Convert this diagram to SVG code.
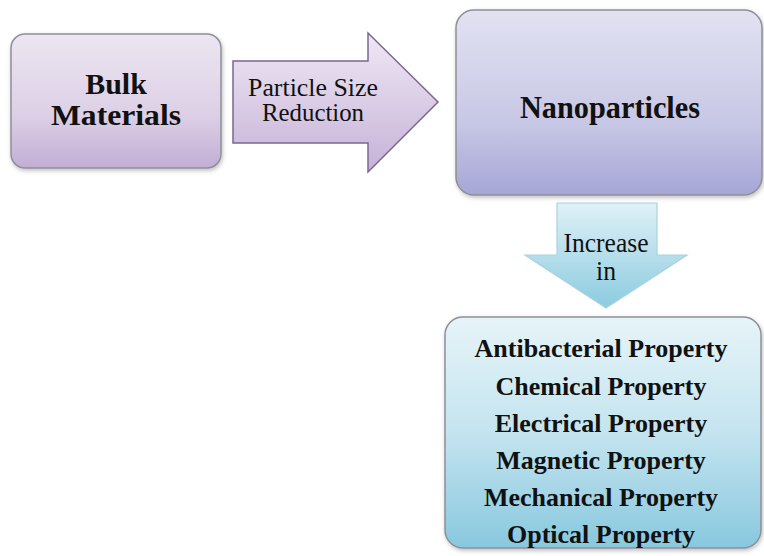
<svg xmlns="http://www.w3.org/2000/svg" width="764" height="556" viewBox="0 0 764 556">
<defs>
<linearGradient id="gBulk" x1="0" y1="0" x2="0" y2="1"><stop offset="0" stop-color="#ece6f1"/><stop offset="0.6" stop-color="#ddd0e6"/><stop offset="1" stop-color="#c2aed4"/></linearGradient>
<linearGradient id="gArrow" x1="0" y1="0" x2="0" y2="1"><stop offset="0" stop-color="#efe8f4"/><stop offset="1" stop-color="#c6b2d8"/></linearGradient>
<linearGradient id="gNano" x1="0" y1="0" x2="0" y2="1"><stop offset="0" stop-color="#e2e2f2"/><stop offset="0.6" stop-color="#c8c8e6"/><stop offset="1" stop-color="#a6a6d6"/></linearGradient>
<linearGradient id="gDown" x1="0" y1="0" x2="0" y2="1"><stop offset="0" stop-color="#dff1f6"/><stop offset="1" stop-color="#8ccbe0"/></linearGradient>
<linearGradient id="gProp" x1="0" y1="0" x2="0" y2="1"><stop offset="0" stop-color="#e6f4f8"/><stop offset="0.5" stop-color="#c4e4ef"/><stop offset="1" stop-color="#88c8de"/></linearGradient>
<filter id="sh" x="-10%" y="-10%" width="120%" height="120%"><feDropShadow dx="1" dy="2" stdDeviation="2" flood-color="#000" flood-opacity="0.25"/></filter>
</defs>
<style>
.box{stroke:#8f8f99;stroke-width:1.5;filter:url(#sh)}
.tb{font-weight:bold;fill:#111;text-anchor:middle}
.tr{fill:#111;text-anchor:middle}
</style>
<rect width="764" height="556" fill="#fff"/>
<g id="connectors" font-family="Liberation Serif, serif">
<path d="M233,61 H368 V33 L438,102 L368,172 V143 H233 Z" fill="url(#gArrow)" stroke="#7a6890" stroke-width="1.5" stroke-linejoin="miter"/>
<path d="M557,203 H657 V255 H687 L606,308 L525,255 H557 Z" fill="url(#gDown)" stroke="#a8d2e0" stroke-width="1.2"/>
<text class="tr" x="313" y="96" font-size="25" textLength="130" lengthAdjust="spacingAndGlyphs">Particle Size</text>
<text class="tr" x="313" y="121" font-size="25" textLength="102" lengthAdjust="spacingAndGlyphs">Reduction</text>
<text class="tr" x="606" y="252" font-size="27" textLength="85" lengthAdjust="spacingAndGlyphs">Increase</text>
<text class="tr" x="606" y="280" font-size="27" textLength="20" lengthAdjust="spacingAndGlyphs">in</text>
</g>
<g id="bulk" font-family="Liberation Serif, serif">
<rect class="box" x="11" y="34" width="210" height="134" rx="14" fill="url(#gBulk)"/>
<text class="tb" x="116" y="94" font-size="30">Bulk</text>
<text class="tb" x="116" y="125" font-size="30" textLength="130" lengthAdjust="spacingAndGlyphs">Materials</text>
</g>
<g id="nano" font-family="Liberation Serif, serif">
<rect class="box" x="456" y="10" width="306" height="185" rx="18" fill="url(#gNano)"/>
<text class="tb" x="610" y="118" font-size="31" textLength="180" lengthAdjust="spacingAndGlyphs">Nanoparticles</text>
</g>
<g id="props" font-family="Liberation Serif, serif">
<rect class="box" x="445" y="317" width="316" height="231" rx="18" fill="url(#gProp)"/>
<text class="tb" x="601" y="357" font-size="26">Antibacterial Property</text>
<text class="tb" x="601" y="395" font-size="26">Chemical Property</text>
<text class="tb" x="601" y="432" font-size="26">Electrical Property</text>
<text class="tb" x="601" y="469" font-size="26">Magnetic Property</text>
<text class="tb" x="601" y="506" font-size="26">Mechanical Property</text>
<text class="tb" x="601" y="543" font-size="26">Optical Property</text>
</g>
</svg>
